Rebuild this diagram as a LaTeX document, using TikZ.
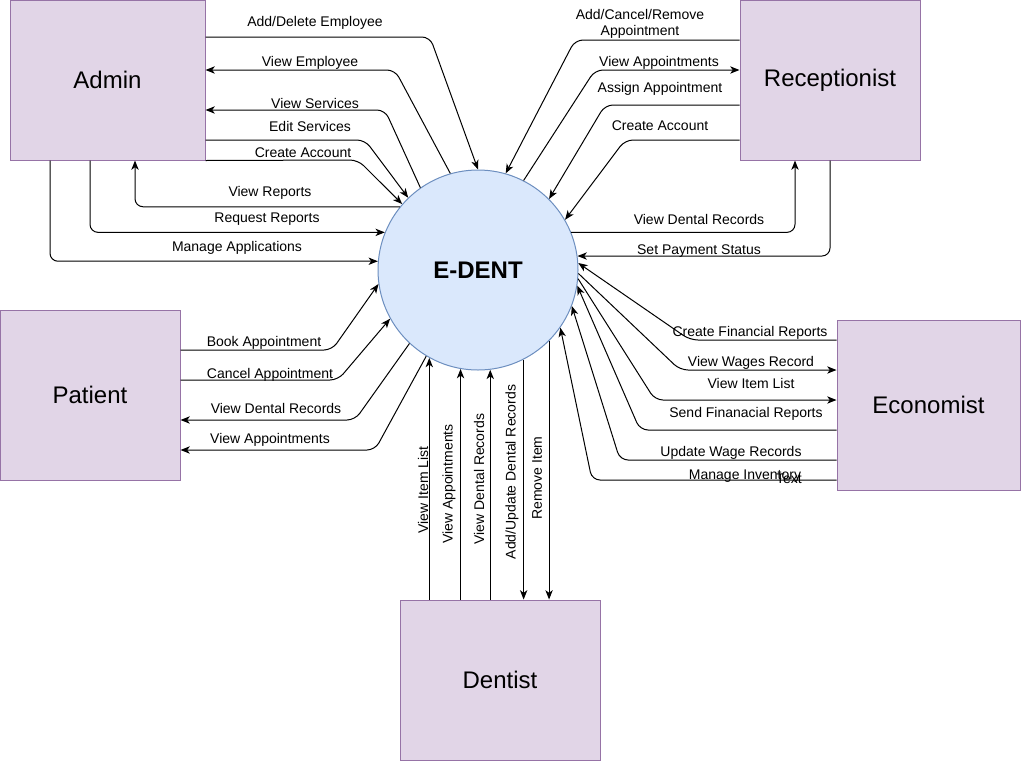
\documentclass[tikz,border=0pt]{standalone}
\usepackage{fontspec}
\setmainfont{Liberation Sans}
\usepackage{tikz}
\usetikzlibrary{arrows.meta, positioning, calc}
\definecolor{entityfill}{HTML}{E1D5E7}
\definecolor{entityline}{HTML}{9673A6}
\definecolor{procfill}{HTML}{DAE8FC}
\definecolor{procline}{HTML}{6C8EBF}

\begin{document}
\begin{tikzpicture}[
    x=0.75pt, y=-0.75pt,
    entity/.style={rectangle, draw=entityline, fill=entityfill, line width=0.75pt, inner sep=0pt, font=\fontsize{18}{22}\selectfont},
    process/.style={circle, draw=procline, fill=procfill, line width=0.75pt, minimum size=150pt, inner sep=0pt, font=\fontsize{18}{22}\selectfont\bfseries},
    flow/.style={-{Stealth[length=7pt, width=5.5pt, inset=2pt]}, line width=0.75pt, rounded corners=6pt},
    lbl/.style={font=\fontsize{10.5}{12.5}\selectfont, inner sep=0pt, align=center},
]
\useasboundingbox (0,0) rectangle (1021,761);

\node[process] (edent) at (478,270) {E-DENT};
\node[entity, minimum width=146.25pt, minimum height=120pt] (admin) at (107.5,80) {Admin};
\node[entity, minimum width=135pt, minimum height=120pt] (recep) at (830,80) {Receptionist};
\node[entity, minimum width=135pt, minimum height=127.5pt] (patient) at (90,395) {Patient};
\node[entity, minimum width=137.25pt, minimum height=127.5pt] (econ) at (928.5,405) {Economist};
\node[entity, minimum width=150pt, minimum height=120pt] (dentist) at (500,680) {Dentist};

% admin flows
\draw[flow] (admin.east |- 0,37) -- (430,37) -- (edent.90);
\draw[flow] (edent.106) -- (395,70) -- (admin.east |- 0,70);
\draw[flow] (edent.125) -- (385,110) -- (admin.east |- 0,110);
\draw[flow] (admin.east |- 0,140) -- (365,140) -- (edent.134);
\draw[flow] (admin.south east) -- (358,160) -- (edent.139);
\draw[flow] (edent.141) -| (135,0 |- admin.south);
\draw[flow] (90,0 |- admin.south) |- (edent.158);
\draw[flow] (50,0 |- admin.south) |- (edent.175);

\node[lbl] (a1) at (315,23) {Add/Delete Employee};
\node[lbl] (a2) at (310,63) {View Employee};
\node[lbl] (a3) at (315,103) {View Services};
\node[lbl] (a4) at (310,126) {Edit Services};
\node[lbl] (a5) at (303,153) {Create Account};
\node[lbl] (a6) at (270,193) {View Reports};
\node[lbl] (a7) at (267,219) {Request Reports};
\node[lbl] (a8) at (237,248) {Manage Applications};

% receptionist flows
\draw[flow] (recep.west |- 0,40) -- (575,40) -- (edent.74);
\draw[flow] (edent.63) -- (595,70) -- (recep.west |- 0,70);
\draw[flow] (recep.west |- 0,105) -- (605,105) -- (edent.45);
\draw[flow] (recep.west |- 0,140) -- (625,140) -- (edent.30);
\draw[flow] (edent.22) -| (795,0 |- recep.south);
\draw[flow] (recep.south) |- (edent.8);

\node[lbl] (r1) at (640,24) {Add/Cancel/Remove\\Appointment};
\node[lbl] (r2) at (659,63) {View Appointments};
\node[lbl] (r3) at (660,89) {Assign Appointment};
\node[lbl] (r4) at (660,126) {Create Account};
\node[lbl] (r5) at (699,219) {View Dental Records};
\node[lbl] (r6) at (699,251) {Set Payment Status};

% economist flows
\draw[flow] (econ.west |- 0,340) -- (690,340) -- (edent.4);
\draw[flow] (edent.358) -- (680,370) -- (econ.west |- 0,370);
\draw[flow] (edent.355) -- (655,400) -- (econ.west |- 0,400);
\draw[flow] (econ.west |- 0,430) -- (640,430) -- (edent.351);
\draw[flow] (econ.west |- 0,460) -- (620,460) -- (edent.339);
\draw[flow] (econ.west |- 0,480) -- (592,480) -- (edent.325);

\node[lbl] (e1) at (750,333) {Create Financial Reports};
\node[lbl] (e2) at (751,363) {View Wages Record};
\node[lbl] (e3) at (751,383) {View Item List};
\node[lbl] (e4) at (746,414) {Send Finanacial Reports};
\node[lbl] (e5) at (731,453) {Update Wage Records};
\node[lbl] (e6) at (745,476) {Manage Inventory};
\node[lbl] (e7) at (789,479) {Text};

% patient flows
\draw[flow] (patient.east |- 0,350) -- (332,350) -- (edent.188);
\draw[flow] (patient.east |- 0,380) -- (338,380) -- (edent.209);
\draw[flow] (edent.227) -- (355,420) -- (patient.east |- 0,420);
\draw[flow] (edent.239) -- (375,450) -- (patient.east |- 0,450);

\node[lbl] (p1) at (264,343) {Book Appointment};
\node[lbl] (p2) at (270,375) {Cancel Appointment};
\node[lbl] (p3) at (276,408) {View Dental Records};
\node[lbl] (p4) at (270,440) {View Appointments};

% dentist flows
\draw[flow] (edent.241 |- dentist.north) -- (edent.241);
\draw[flow] (edent.260 |- dentist.north) -- (edent.260);
\draw[flow] (edent.277 |- dentist.north) -- (edent.277);
\draw[flow] (edent.297) -- (edent.297 |- dentist.north);
\draw[flow] (edent.315) -- (edent.315 |- dentist.north);

\node[lbl, rotate=90] (d1) at (423,490) {View Item List};
\node[lbl, rotate=90] (d2) at (449,484) {View Appointments};
\node[lbl, rotate=90] (d3) at (479,479) {View Dental Records};
\node[lbl, rotate=90] (d4) at (512,472) {Add/Update Dental Records};
\node[lbl, rotate=90] (d5) at (537,478) {Remove Item};

\end{tikzpicture}
\end{document}
